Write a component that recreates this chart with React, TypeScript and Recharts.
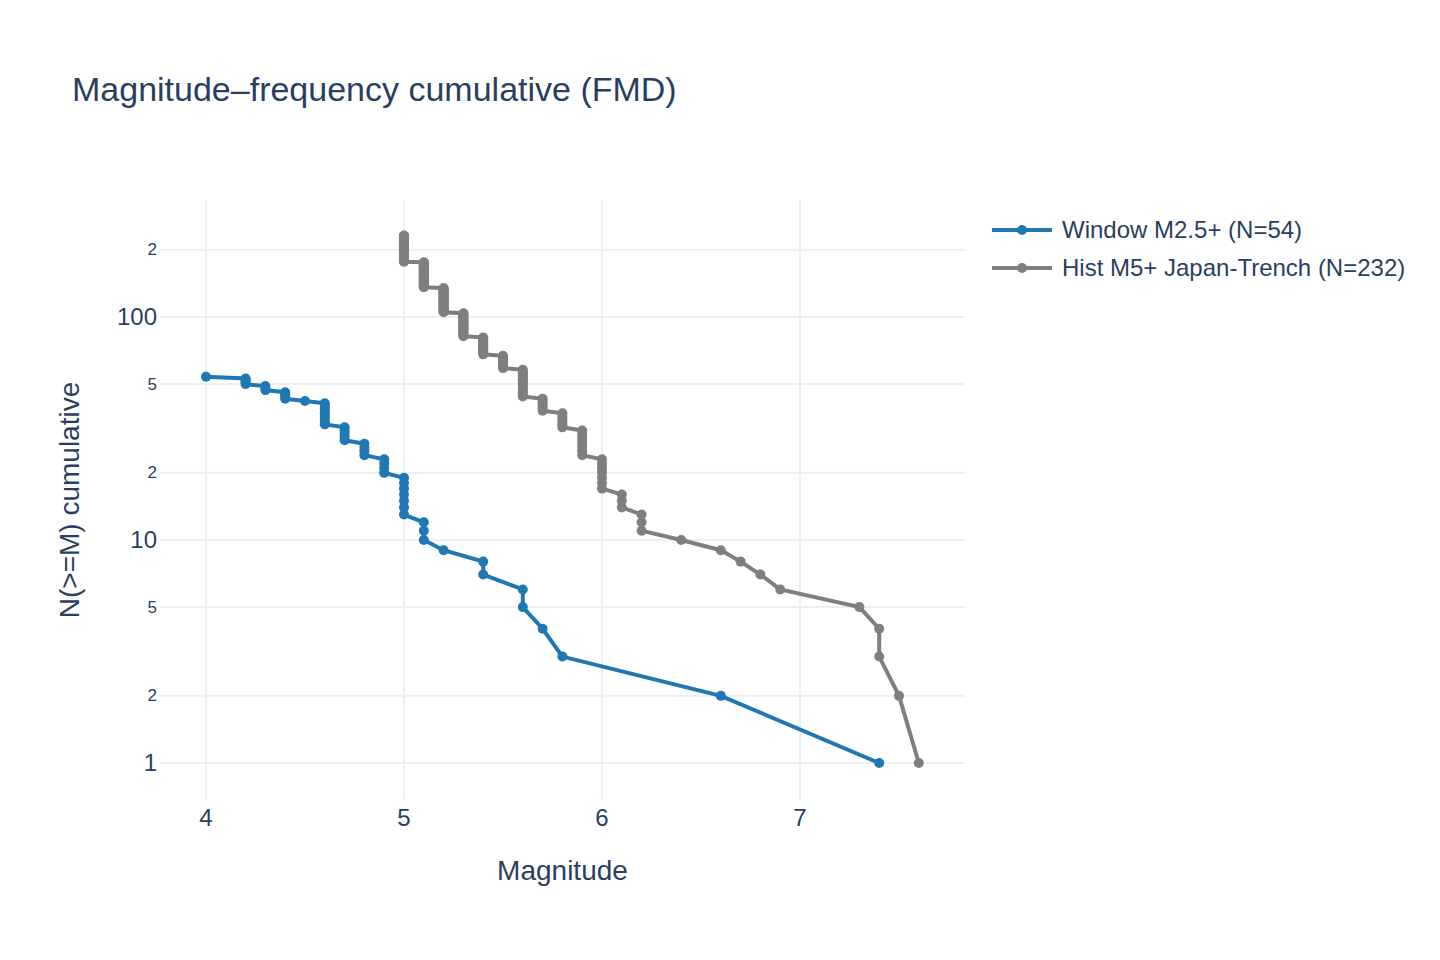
import { ComposedChart, Line, XAxis, YAxis, CartesianGrid } from "recharts";

// magnitude bins (largest first) and how many events fall in each
const windowMags = [7.4, 6.6, 5.8, 5.7, 5.6, 5.4, 5.2, 5.1, 5.0, 4.9, 4.8, 4.7, 4.6, 4.5, 4.4, 4.3, 4.2, 4.0];
const windowCounts = [1, 1, 1, 1, 2, 2, 1, 3, 7, 4, 4, 5, 9, 1, 4, 3, 4, 1];

const histMags = [7.6, 7.5, 7.4, 7.3, 6.9, 6.8, 6.7, 6.6, 6.4, 6.2, 6.1, 6.0, 5.9, 5.8, 5.7, 5.6, 5.5, 5.4, 5.3, 5.2, 5.1, 5.0];
const histCounts = [1, 1, 2, 1, 1, 1, 1, 1, 1, 3, 3, 7, 8, 6, 6, 15, 9, 14, 23, 31, 41, 56];

const xTicks = [4, 5, 6, 7];
const yTicks = [1, 2, 5, 10, 20, 50, 100, 200];
const majorTicks = [1, 10, 100];

const BLUE = "#1f77b4";
const GREY = "#7f7f7f";
const INK = "#2a3f5f";
const GRID = "#ebf0f8";
const FONT = '"Liberation Sans", Arial, sans-serif';

// one point per event: N(>=M) is the event's rank from the largest magnitude
function cumulative(mags: number[], counts: number[]) {
  const pts: { m: number; n: number }[] = [];
  let n = 0;
  mags.forEach((m, i) => {
    for (let k = 0; k < counts[i]; k++) {
      n += 1;
      pts.push({ m, n });
    }
  });
  return pts;
}

const windowPts = cumulative(windowMags, windowCounts);
const histPts = cumulative(histMags, histCounts);

const series = [
  { name: `Window M2.5+ (N=${windowPts.length})`, color: BLUE, data: windowPts },
  { name: `Hist M5+ Japan-Trench (N=${histPts.length})`, color: GREY, data: histPts },
];

function YTick(props: any) {
  const { x, y, payload } = props;
  const v = payload.value as number;
  const major = majorTicks.includes(v);
  return (
    <text x={x} y={y} textAnchor="end" dominantBaseline="central" fontSize={major ? 24 : 17} fill={INK} fontFamily={FONT}>
      {major ? String(v) : String(v).charAt(0)}
    </text>
  );
}

export default function App() {
  return (
    <div style={{ position: "absolute", left: 0, top: 0, width: 1440, height: 960, background: "#fff", fontFamily: FONT }}>
      <ComposedChart width={1440} height={960} margin={{ top: 200, right: 475, bottom: 100, left: 80 }}>
        {/* grid only at the tick values, no frame around the plot */}
        <CartesianGrid stroke={GRID} strokeWidth={2} syncWithTicks />
        <XAxis
          type="number"
          dataKey="m"
          domain={[3.7677, 7.8333]}
          ticks={xTicks}
          allowDataOverflow
          height={60}
          axisLine={false}
          tickLine={false}
          tickSize={0}
          tickMargin={9}
          tick={{ fontSize: 24, fill: INK, fontFamily: FONT }}
        />
        <YAxis
          type="number"
          scale="log"
          dataKey="n"
          domain={[0.6823, 334.7]}
          ticks={yTicks}
          allowDataOverflow
          width={80}
          axisLine={false}
          tickLine={false}
          tickSize={0}
          tickMargin={3}
          tick={<YTick />}
        />
        {series.map((s) => (
          <Line
            key={s.name}
            data={s.data}
            dataKey="n"
            name={s.name}
            stroke={s.color}
            strokeWidth={4}
            dot={{ r: 5, fill: s.color, stroke: "none" }}
            activeDot={false}
            isAnimationActive={false}
          />
        ))}
      </ComposedChart>

      <div style={{ position: "absolute", left: 72, top: 68, fontSize: 34, color: INK, whiteSpace: "nowrap", lineHeight: "42px" }}>
        Magnitude–frequency cumulative (FMD)
      </div>

      <div style={{ position: "absolute", left: 160, width: 805, top: 853, textAlign: "center", fontSize: 28, color: INK, lineHeight: "36px" }}>
        Magnitude
      </div>

      <div
        style={{
          position: "absolute",
          left: 70,
          top: 500,
          transform: "translate(-50%, -50%) rotate(-90deg)",
          fontSize: 28,
          color: INK,
          whiteSpace: "nowrap",
          lineHeight: "36px",
        }}
      >
        N(&gt;=M) cumulative
      </div>

      <div style={{ position: "absolute", left: 990, top: 211 }}>
        {series.map((s) => (
          <div key={s.name} style={{ display: "flex", alignItems: "center", height: 38, fontSize: 24, color: INK, whiteSpace: "nowrap" }}>
            <svg width={64} height={20} style={{ marginRight: 8 }}>
              <line x1={2} y1={10} x2={62} y2={10} stroke={s.color} strokeWidth={4} />
              <circle cx={32} cy={10} r={5} fill={s.color} />
            </svg>
            {s.name}
          </div>
        ))}
      </div>
    </div>
  );
}
